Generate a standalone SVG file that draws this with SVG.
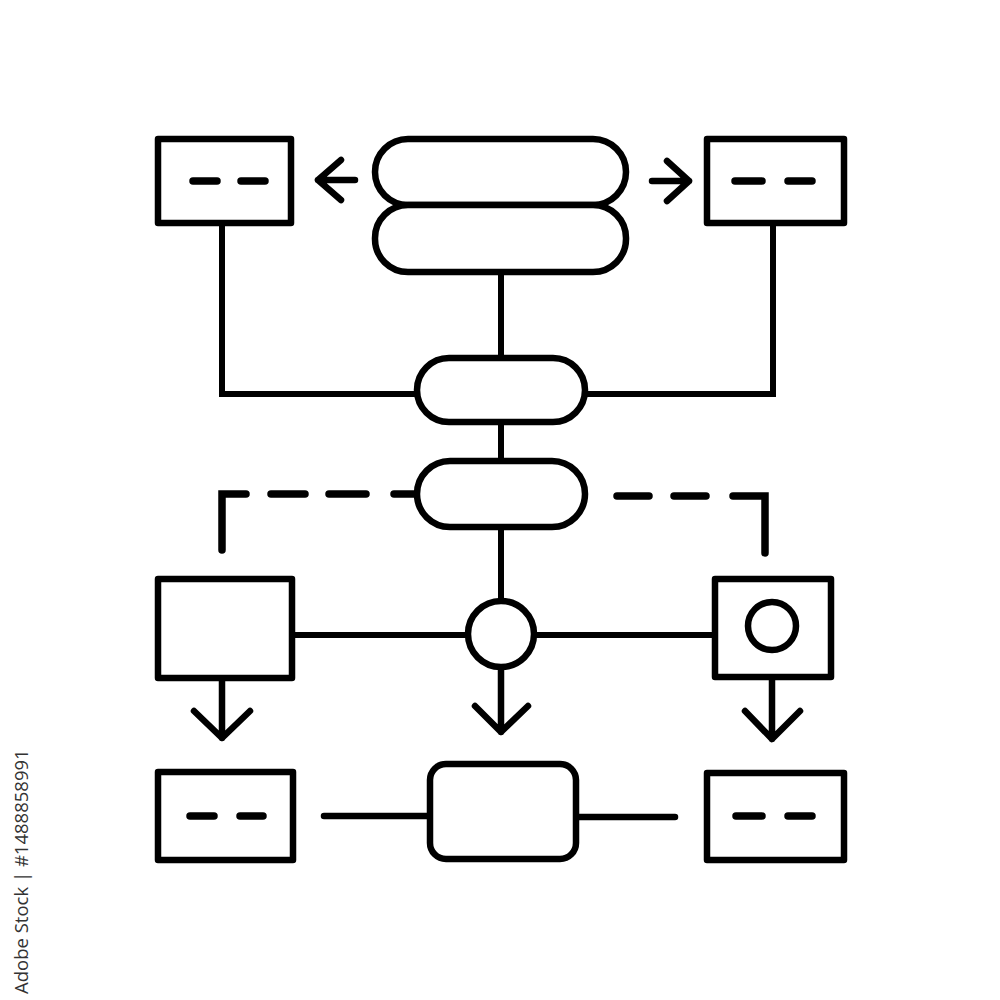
<svg xmlns="http://www.w3.org/2000/svg" width="1000" height="1000" viewBox="0 0 1000 1000">
  <style>
    .shape { fill: #fff; stroke: #000; stroke-width: 6.5; stroke-linejoin: round; }
    .line { fill: none; stroke: #000; stroke-width: 6; stroke-linecap: butt; }
    .arrow { fill: none; stroke: #000; stroke-width: 6.5; stroke-linecap: round; stroke-linejoin: round; }
    .dash { fill: none; stroke: #000; stroke-width: 7.5; stroke-linecap: round; }
    .wm { font-family: "Open Sans", "Noto Sans", sans-serif; font-size: 18.5px; fill: #333; }
  </style>
  <rect width="1000" height="1000" fill="#fff"/>

  <g id="connectors">
    <!-- top arrows -->
    <path class="arrow" d="M355 180 H318 M341 160 L318 180 L341 200"/>
    <path class="arrow" d="M652 181 H689 M667 161 L689 181 L667 201"/>
    <!-- top boxes to middle pill -->
    <path class="line" d="M222 223 V394 H417"/>
    <path class="line" d="M773 223 V394 H585"/>
    <!-- central spine -->
    <path class="line" d="M501 272 V358"/>
    <path class="line" d="M501 422 V461"/>
    <path class="line" d="M501 527 V601"/>
    <!-- dashed lines -->
    <path class="dash" d="M222 550 V494 H246"/>
    <path class="dash" d="M271 494 H305"/>
    <path class="dash" d="M329 494 H366"/>
    <path class="dash" d="M394 494 H414"/>
    <path class="dash" d="M617 496 H649"/>
    <path class="dash" d="M674 496 H706"/>
    <path class="dash" d="M733 496 H765 V553"/>
    <!-- middle row horizontals -->
    <path class="line" d="M292 635 H468"/>
    <path class="line" d="M534 635 H715"/>
    <!-- down arrows -->
    <path class="arrow" d="M222 681 V738 M194 711 L222 738 L250 711"/>
    <path class="arrow" d="M501 667 V732 M475 706 L501 732 L528 706"/>
    <path class="arrow" d="M772 679 V739 M745 711 L772 739 L800 711"/>
    <!-- bottom horizontals -->
    <path class="dash" d="M324 816 H430" style="stroke-width:6.5"/>
    <path class="dash" d="M576 817 H675" style="stroke-width:6.5"/>
  </g>

  <g id="top-left-box">
    <rect class="shape" x="158" y="139" width="133" height="84"/>
    <path class="dash" d="M193 181 H217 M241 181 H265"/>
  </g>
  <g id="top-right-box">
    <rect class="shape" x="707" y="139" width="137" height="84"/>
    <path class="dash" d="M735 181 H762 M788 181 H812"/>
  </g>
  <g id="top-pill-1">
    <rect class="shape" x="375" y="139" width="251" height="66" rx="33"/>
  </g>
  <g id="top-pill-2">
    <rect class="shape" x="375" y="205" width="251" height="67" rx="33"/>
  </g>
  <g id="middle-pill-1">
    <rect class="shape" x="417" y="358" width="168" height="64" rx="32"/>
  </g>
  <g id="middle-pill-2">
    <rect class="shape" x="417" y="461" width="168" height="66" rx="33"/>
  </g>
  <g id="left-square">
    <rect class="shape" x="158" y="579" width="134" height="99"/>
  </g>
  <g id="center-circle">
    <circle class="shape" cx="501" cy="634" r="33"/>
  </g>
  <g id="right-square">
    <rect class="shape" x="715" y="579" width="116" height="98"/>
    <circle class="shape" cx="772" cy="626" r="24"/>
  </g>
  <g id="bottom-left-box">
    <rect class="shape" x="158" y="772" width="135" height="88"/>
    <path class="dash" d="M190 816 H214 M240 816 H263"/>
  </g>
  <g id="bottom-center-box">
    <rect class="shape" x="430" y="764" width="146" height="95" rx="16"/>
  </g>
  <g id="bottom-right-box">
    <rect class="shape" x="707" y="773" width="137" height="87"/>
    <path class="dash" d="M736 816 H762 M788 816 H812"/>
  </g>

  <text class="wm" transform="translate(28,994) rotate(-90)">Adobe Stock | #1488858991</text>
</svg>
